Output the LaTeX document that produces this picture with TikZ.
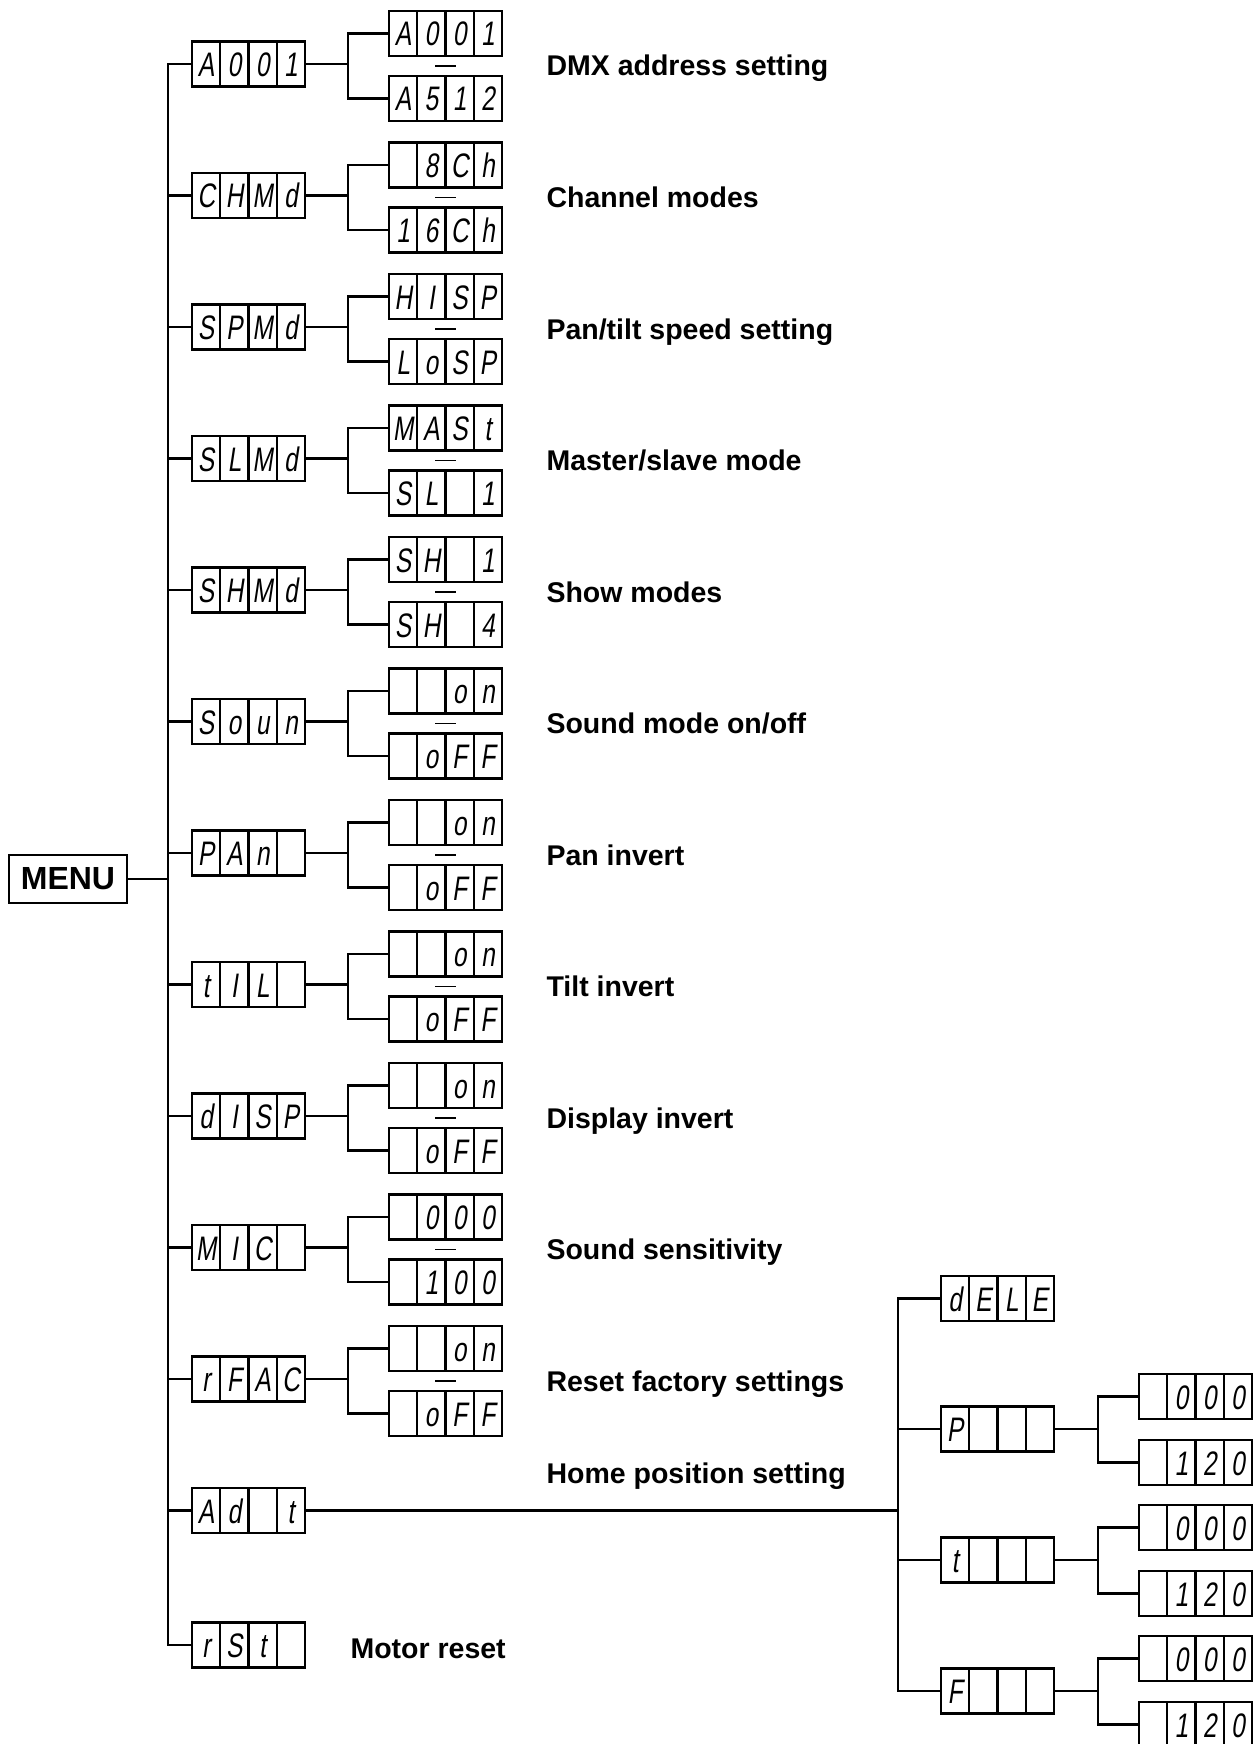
\documentclass[tikz,border=0pt]{standalone}
\usepackage{fontspec}
\setmainfont{Liberation Sans}
\newfontfamily\segfont{Liberation Sans}[FakeSlant=0.15,FakeStretch=0.72]
\usetikzlibrary{calc}
\newcommand{\cells}[4]{\makebox[28.25pt]{#1}\makebox[28.25pt]{#2}\makebox[28.25pt]{#3}\makebox[28.25pt]{#4}}

\begin{document}
\begin{tikzpicture}[
      x=1pt, y=-1pt, line width=2.4pt,
      disp/.style={draw, line width=2.2pt, inner sep=0pt, minimum width=113pt, minimum height=45pt,
                   text height=25pt, text depth=0pt, font=\segfont\fontsize{34}{34}\selectfont,
                   path picture={\foreach \k in {1,2,3}
                     \draw[line width=2.2pt] ([xshift=\k*28.25pt]path picture bounding box.south west)
                       -- ([xshift=\k*28.25pt]path picture bounding box.north west);}},
      lab/.style={anchor=base west, font=\bfseries\fontsize{28.5}{30}\selectfont},
      sep/.style={line width=1.8pt}
    ]
      \useasboundingbox (0,0) rectangle (1258,1744);

      \node[draw, line width=2.2pt, inner sep=0pt, minimum width=118pt, minimum height=48pt,
            font=\bfseries\fontsize{32}{32}\selectfont] (menu) at (68,879) {MENU};
      \coordinate (trunk) at (168,879);

      % Main menu
      \node[disp] (a001) at (248.5,64) {\cells{A}{0}{0}{1}};
      \node[disp] (chmd) at (248.5,195.5) {\cells{C}{H}{M}{d}};
      \node[disp] (spmd) at (248.5,327) {\cells{S}{P}{M}{d}};
      \node[disp] (slmd) at (248.5,458.5) {\cells{S}{L}{M}{d}};
      \node[disp] (shmd) at (248.5,590) {\cells{S}{H}{M}{d}};
      \node[disp] (soun) at (248.5,721.5) {\cells{S}{o}{u}{n}};
      \node[disp] (pan) at (248.5,853) {\cells{P}{A}{n}{}};
      \node[disp] (til) at (248.5,984.5) {\cells{t}{I}{L}{}};
      \node[disp] (disp) at (248.5,1116) {\cells{d}{I}{S}{P}};
      \node[disp] (mic) at (248.5,1247.5) {\cells{M}{I}{C}{}};
      \node[disp] (rfac) at (248.5,1379) {\cells{r}{F}{A}{C}};
      \node[disp] (adt) at (248.5,1510.5) {\cells{A}{d}{}{t}};
      \node[disp] (rst) at (248.5,1645) {\cells{r}{S}{t}{}};

      % Options
      \node[disp] (a001-up) at (445.5,33.5) {\cells{A}{0}{0}{1}};
      \node[disp] (a001-dn) at (445.5,98.5) {\cells{A}{5}{1}{2}};
      \node[disp] (chmd-up) at (445.5,165) {\cells{}{8}{C}{h}};
      \node[disp] (chmd-dn) at (445.5,230) {\cells{1}{6}{C}{h}};
      \node[disp] (spmd-up) at (445.5,296.5) {\cells{H}{I}{S}{P}};
      \node[disp] (spmd-dn) at (445.5,361.5) {\cells{L}{o}{S}{P}};
      \node[disp] (slmd-up) at (445.5,428) {\cells{M}{A}{S}{t}};
      \node[disp] (slmd-dn) at (445.5,493) {\cells{S}{L}{}{1}};
      \node[disp] (shmd-up) at (445.5,559.5) {\cells{S}{H}{}{1}};
      \node[disp] (shmd-dn) at (445.5,624.5) {\cells{S}{H}{}{4}};
      \node[disp] (soun-up) at (445.5,691) {\cells{}{}{o}{n}};
      \node[disp] (soun-dn) at (445.5,756) {\cells{}{o}{F}{F}};
      \node[disp] (pan-up) at (445.5,822.5) {\cells{}{}{o}{n}};
      \node[disp] (pan-dn) at (445.5,887.5) {\cells{}{o}{F}{F}};
      \node[disp] (til-up) at (445.5,954) {\cells{}{}{o}{n}};
      \node[disp] (til-dn) at (445.5,1019) {\cells{}{o}{F}{F}};
      \node[disp] (disp-up) at (445.5,1085.5) {\cells{}{}{o}{n}};
      \node[disp] (disp-dn) at (445.5,1150.5) {\cells{}{o}{F}{F}};
      \node[disp] (mic-up) at (445.5,1217) {\cells{}{0}{0}{0}};
      \node[disp] (mic-dn) at (445.5,1282) {\cells{}{1}{0}{0}};
      \node[disp] (rfac-up) at (445.5,1348.5) {\cells{}{}{o}{n}};
      \node[disp] (rfac-dn) at (445.5,1413.5) {\cells{}{o}{F}{F}};

      % Labels
      \node[lab] (l-a001) at (542,76) {DMX address setting};
      \node[lab] (l-chmd) at (542,207.5) {Channel modes};
      \node[lab] (l-spmd) at (542,339) {Pan/tilt speed setting};
      \node[lab] (l-slmd) at (542,470.5) {Master/slave mode};
      \node[lab] (l-shmd) at (542,602) {Show modes};
      \node[lab] (l-soun) at (542,733.5) {Sound mode on/off};
      \node[lab] (l-pan) at (542,865) {Pan invert};
      \node[lab] (l-til) at (542,996.5) {Tilt invert};
      \node[lab] (l-disp) at (542,1128) {Display invert};
      \node[lab] (l-mic) at (542,1259.5) {Sound sensitivity};
      \node[lab] (l-rfac) at (542,1391) {Reset factory settings};
      \node[lab] (l-adt) at (542,1483) {Home position setting};
      \node[lab] (l-rst) at (346,1658) {Motor reset};

      % Home position
      \coordinate (hub) at (898,1510.5);
      \node[disp] (dele) at (997.5,1298.5) {\cells{d}{E}{L}{E}};
      \node[disp] (pos-p) at (997.5,1429) {\cells{P}{}{}{}};
      \node[disp] (pos-t) at (997.5,1560) {\cells{t}{}{}{}};
      \node[disp] (pos-f) at (997.5,1691) {\cells{F}{}{}{}};
      \node[disp] (pos-p-up) at (1195.5,1396.5) {\cells{}{0}{0}{0}};
      \node[disp] (pos-p-dn) at (1195.5,1462.5) {\cells{}{1}{2}{0}};
      \node[disp] (pos-t-up) at (1195.5,1527.5) {\cells{}{0}{0}{0}};
      \node[disp] (pos-t-dn) at (1195.5,1593.5) {\cells{}{1}{2}{0}};
      \node[disp] (pos-f-up) at (1195.5,1658.5) {\cells{}{0}{0}{0}};
      \node[disp] (pos-f-dn) at (1195.5,1724.5) {\cells{}{1}{2}{0}};

      % Connectors
      \draw (menu.east) -- (trunk);
      \draw (a001.west) -| (trunk) |- (rst.west);
      \foreach \m in {chmd,spmd,slmd,shmd,soun,pan,til,disp,mic,rfac,adt}
        \draw (\m.west) -- (\m.west -| trunk);
      \foreach \m in {a001,chmd,spmd,slmd,shmd,soun,pan,til,disp,mic,rfac}{
        \draw (\m.east) -- ++(42,0) coordinate (\m-j);
        \draw (\m-up.west) -| (\m-j) |- (\m-dn.west);
        \draw[sep] ($(\m-up.south)!0.5!(\m-dn.north)$) +(-10.5,0) -- +(10.5,0);
      }
      \draw (adt.east) -- (hub);
      \draw (dele.west) -| (hub) |- (pos-f.west);
      \draw (pos-p.west) -- (pos-p.west -| hub);
      \draw (pos-t.west) -- (pos-t.west -| hub);
      \foreach \m in {pos-p,pos-t,pos-f}{
        \draw (\m.east) -- ++(43,0) coordinate (\m-j);
        \draw (\m-up.west) -| (\m-j) |- (\m-dn.west);
      }
    \end{tikzpicture}
\end{document}
